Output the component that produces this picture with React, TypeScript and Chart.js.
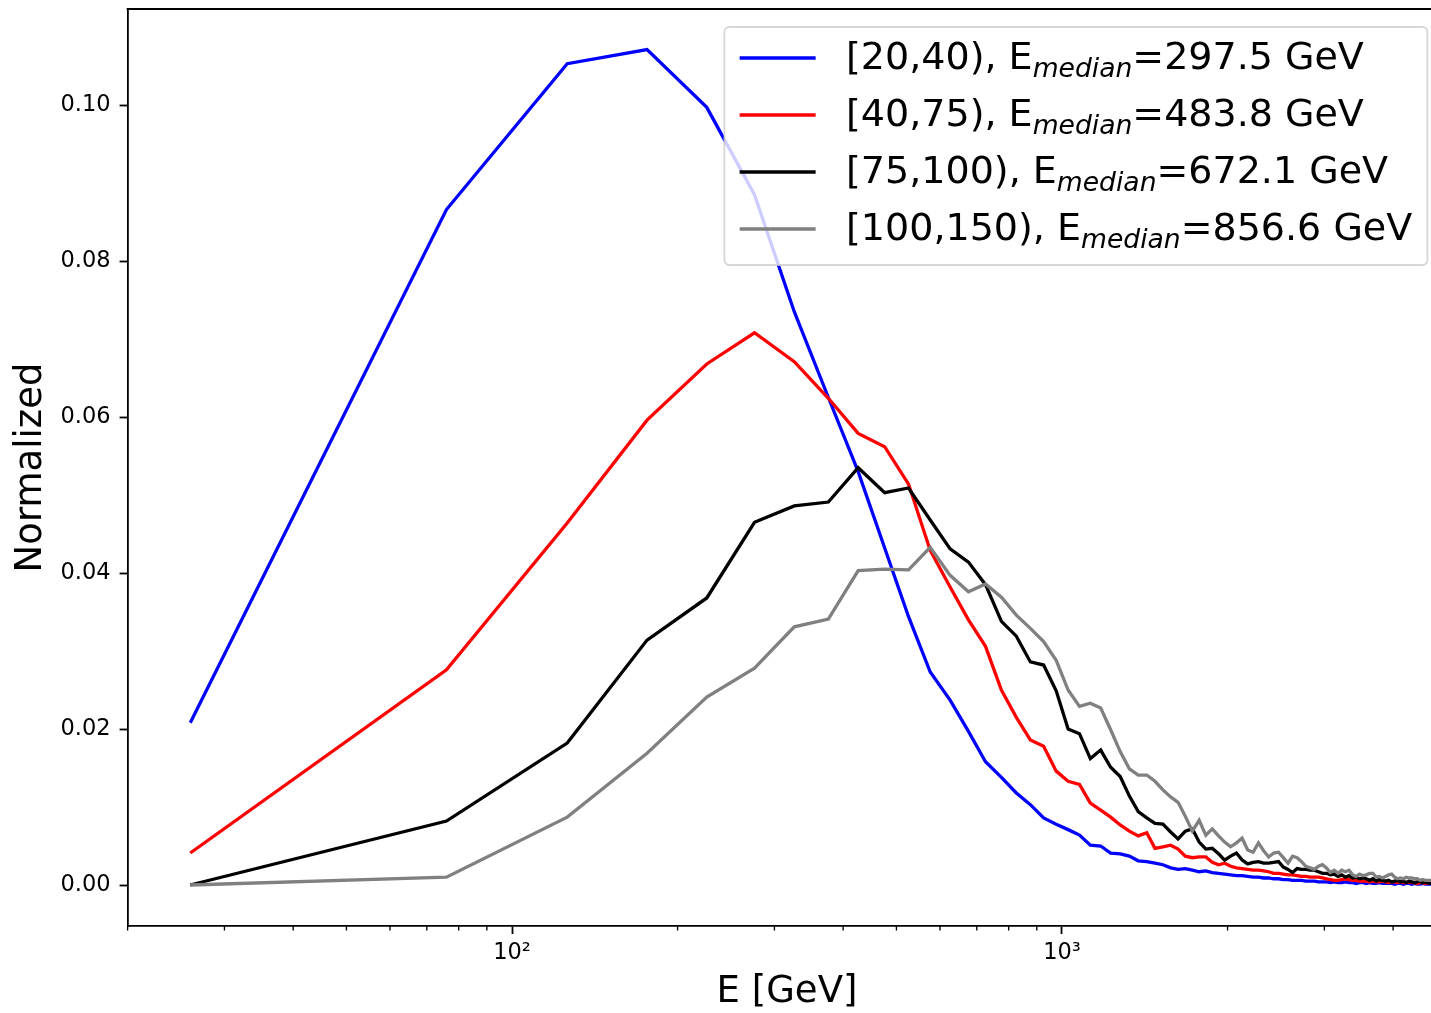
import React, { useEffect, useRef } from "react";
import { Chart, registerables } from "chart.js";

Chart.register(...registerables);

// ---------- data ----------
const energies = [
  26, 76, 126, 176, 226, 276, 326, 376, 426, 476,
  526, 576, 626, 676, 726, 776, 826, 876, 926, 976,
  1026, 1076, 1126, 1176, 1226, 1276, 1326, 1376, 1426, 1476,
  1526, 1576, 1626, 1676, 1726, 1776, 1826, 1876, 1926, 1976,
  2026, 2076, 2126, 2176, 2226, 2276, 2326, 2376, 2426, 2476,
  2526, 2576, 2626, 2676, 2726, 2776, 2826, 2876, 2926, 2976,
  3026, 3076, 3126, 3176, 3226, 3276, 3326, 3376, 3426, 3476,
  3526, 3576, 3626, 3676, 3726, 3776, 3826, 3876, 3926, 3976,
  4026, 4076, 4126, 4176, 4226, 4276, 4326, 4376, 4426, 4476,
  4526, 4576, 4626, 4676, 4726, 4776, 4826, 4876, 4926, 4976,
];

const series20to40 = [
  0.0208, 0.0866, 0.1053, 0.1071, 0.0997, 0.0885, 0.0735, 0.0625, 0.0530, 0.0432,
  0.0344, 0.0273, 0.0237, 0.0197, 0.0158, 0.0138, 0.0118, 0.0103, 0.0086, 0.0078,
  0.0071, 0.0064, 0.0051, 0.0050, 0.0041, 0.0040, 0.0037, 0.0031, 0.0030, 0.0028,
  0.0026, 0.0022, 0.0020, 0.0021, 0.0019, 0.0017, 0.0018, 0.0016, 0.0015, 0.0014,
  0.0013, 0.0012, 0.0012, 0.0011, 0.0010, 0.0010, 0.0009, 0.0009, 0.0008, 0.0008,
  0.0007, 0.0007, 0.0006, 0.0006, 0.0006, 0.0005, 0.0005, 0.0005, 0.0004, 0.0004,
  0.0004, 0.0003, 0.0004, 0.0003, 0.0003, 0.0004, 0.0003, 0.0003, 0.0002, 0.0003,
  0.0003, 0.0002, 0.0003, 0.0002, 0.0002, 0.0003, 0.0002, 0.0002, 0.0002, 0.0002,
  0.0001, 0.0002, 0.0002, 0.0001, 0.0002, 0.0002, 0.0001, 0.0002, 0.0001, 0.0001,
  0.0002, 0.0001, 0.0001, 0.0001, 0.0002, 0.0001, 0.0001, 0.0001, 0.0001, 0.0001,
];

const series40to75 = [
  0.0041, 0.0276, 0.0464, 0.0596, 0.0668, 0.0708, 0.0671, 0.0624, 0.0579, 0.0562,
  0.0514, 0.0429, 0.0382, 0.0340, 0.0306, 0.0250, 0.0215, 0.0186, 0.0178, 0.0146,
  0.0133, 0.0129, 0.0105, 0.0096, 0.0087, 0.0077, 0.0069, 0.0063, 0.0067, 0.0047,
  0.0049, 0.0051, 0.0046, 0.0037, 0.0035, 0.0036, 0.0036, 0.0029, 0.0026, 0.0028,
  0.0024, 0.0022, 0.0021, 0.0020, 0.0019, 0.0019, 0.0018, 0.0017, 0.0015, 0.0015,
  0.0014, 0.0013, 0.0013, 0.0012, 0.0011, 0.0011, 0.0010, 0.0010, 0.0010, 0.0009,
  0.0008, 0.0007, 0.0006, 0.0006, 0.0007, 0.0008, 0.0007, 0.0006, 0.0006, 0.0005,
  0.0005, 0.0005, 0.0004, 0.0005, 0.0004, 0.0004, 0.0005, 0.0004, 0.0003, 0.0004,
  0.0004, 0.0003, 0.0004, 0.0003, 0.0003, 0.0004, 0.0003, 0.0003, 0.0002, 0.0003,
  0.0003, 0.0002, 0.0003, 0.0003, 0.0002, 0.0003, 0.0002, 0.0002, 0.0003, 0.0002,
];

const series75to100 = [
  0.0000, 0.0082, 0.0182, 0.0314, 0.0368, 0.0465, 0.0486, 0.0491, 0.0535, 0.0503,
  0.0509, 0.0468, 0.0431, 0.0414, 0.0385, 0.0338, 0.0319, 0.0286, 0.0282, 0.0249,
  0.0200, 0.0194, 0.0162, 0.0173, 0.0151, 0.0139, 0.0114, 0.0094, 0.0086, 0.0079,
  0.0078, 0.0068, 0.0059, 0.0069, 0.0072, 0.0055, 0.0046, 0.0047, 0.0040, 0.0032,
  0.0037, 0.0041, 0.0032, 0.0027, 0.0029, 0.0030, 0.0028, 0.0028, 0.0029, 0.0030,
  0.0023, 0.0020, 0.0016, 0.0021, 0.0020, 0.0020, 0.0019, 0.0019, 0.0017, 0.0015,
  0.0015, 0.0013, 0.0014, 0.0011, 0.0013, 0.0010, 0.0012, 0.0009, 0.0010, 0.0008,
  0.0009, 0.0008, 0.0006, 0.0008, 0.0005, 0.0007, 0.0006, 0.0005, 0.0006, 0.0004,
  0.0005, 0.0006, 0.0004, 0.0005, 0.0003, 0.0005, 0.0004, 0.0003, 0.0004, 0.0005,
  0.0003, 0.0004, 0.0003, 0.0002, 0.0004, 0.0003, 0.0003, 0.0002, 0.0003, 0.0002,
];

const series100to150 = [
  0.0000, 0.0010, 0.0087, 0.0169, 0.0241, 0.0278, 0.0331, 0.0341, 0.0403, 0.0405,
  0.0404, 0.0433, 0.0397, 0.0376, 0.0386, 0.0369, 0.0346, 0.0329, 0.0312, 0.0288,
  0.0250, 0.0229, 0.0233, 0.0227, 0.0199, 0.0171, 0.0149, 0.0141, 0.0141, 0.0133,
  0.0122, 0.0113, 0.0106, 0.0088, 0.0069, 0.0083, 0.0064, 0.0072, 0.0063, 0.0055,
  0.0049, 0.0054, 0.0060, 0.0045, 0.0042, 0.0054, 0.0044, 0.0036, 0.0041, 0.0042,
  0.0035, 0.0028, 0.0037, 0.0035, 0.0030, 0.0024, 0.0022, 0.0020, 0.0024, 0.0026,
  0.0022, 0.0016, 0.0019, 0.0015, 0.0019, 0.0017, 0.0019, 0.0013, 0.0011, 0.0014,
  0.0012, 0.0013, 0.0015, 0.0015, 0.0010, 0.0011, 0.0009, 0.0011, 0.0013, 0.0014,
  0.0010, 0.0008, 0.0009, 0.0008, 0.0010, 0.0009, 0.0009, 0.0008, 0.0008, 0.0006,
  0.0007, 0.0006, 0.0006, 0.0006, 0.0006, 0.0005, 0.0005, 0.0006, 0.0005, 0.0005,
];

const seriesRanges = ["[20,40)", "[40,75)", "[75,100)", "[100,150)"];
const seriesMedians = ["297.5", "483.8", "672.1", "856.6"];
const seriesColors = ["#0000ff", "#ff0000", "#000000", "#808080"];
const seriesValues = [series20to40, series40to75, series75to100, series100to150];

const yTickValues = [0, 0.02, 0.04, 0.06, 0.08, 0.1];
const xMajorTicks = [100, 1000];
const xMajorLabels = ["10\u00b2", "10\u00b3"];
const xMinorTicks = [20, 30, 40, 50, 60, 70, 80, 90, 200, 300, 400, 500, 600, 700, 800, 900, 2000, 3000, 4000];

const X_MIN = 20;
const X_MAX = 5000;
const Y_MIN = -0.005256;
const Y_MAX = 0.11231;

const FONT = '"DejaVu Sans", "Liberation Sans", sans-serif';

// ---------- plugins ----------
const framePlugin = {
  id: "frameAndMinorTicks",
  afterDraw(chart: any) {
    const { ctx, chartArea: a, scales } = chart;
    ctx.save();
    ctx.strokeStyle = "#000";
    ctx.lineWidth = 1.8;
    ctx.beginPath();
    ctx.moveTo(a.left - 0.9, a.top);
    ctx.lineTo(a.right, a.top);
    ctx.lineTo(a.right, a.bottom);
    ctx.stroke();
    ctx.lineWidth = 1.35;
    ctx.beginPath();
    for (const v of xMinorTicks) {
      const px = scales.x.getPixelForValue(v);
      ctx.moveTo(px, a.bottom);
      ctx.lineTo(px, a.bottom + 4.5);
    }
    ctx.stroke();
    ctx.restore();
  },
};

const legendPlugin = {
  id: "subscriptLegend",
  afterDraw(chart: any) {
    const { ctx, chartArea: a } = chart;
    const F = 38;
    const baseFont = `${F}px ${FONT}`;
    const subFont = `italic ${F * 0.7}px ${FONT}`;
    ctx.save();
    const parts = seriesRanges.map((r, i) => ({
      pre: `${r}, E`,
      sub: "median",
      post: `=${seriesMedians[i]} GeV`,
    }));
    const widths = parts.map((p) => {
      ctx.font = baseFont;
      const w1 = ctx.measureText(p.pre).width;
      const w3 = ctx.measureText(p.post).width;
      ctx.font = subFont;
      const w2 = ctx.measureText(p.sub).width;
      return [w1, w2, w3];
    });
    const maxW = Math.max(...widths.map((w) => w[0] + w[1] + w[2]));
    const pad = 0.4 * F;
    const handle = 2 * F;
    const hpad = 0.8 * F;
    const boxW = pad + handle + hpad + maxW + pad;
    const boxH = 238;
    const right = a.right - 0.5 * F;
    const top = a.top + 18;
    const left = right - boxW;

    ctx.beginPath();
    ctx.roundRect(left, top, boxW, boxH, 5);
    ctx.fillStyle = "rgba(255,255,255,0.8)";
    ctx.fill();
    ctx.strokeStyle = "rgba(204,204,204,0.8)";
    ctx.lineWidth = 1.8;
    ctx.stroke();

    parts.forEach((p, i) => {
      const cy = top + 31 + i * 57;
      ctx.beginPath();
      ctx.strokeStyle = seriesColors[i];
      ctx.lineWidth = 3.4;
      ctx.moveTo(left + pad, cy);
      ctx.lineTo(left + pad + handle, cy);
      ctx.stroke();
      const baseY = cy + 11;
      let x = left + pad + handle + hpad;
      ctx.fillStyle = "#000";
      ctx.textBaseline = "alphabetic";
      ctx.textAlign = "left";
      ctx.font = baseFont;
      ctx.fillText(p.pre, x, baseY);
      x += widths[i][0];
      ctx.font = subFont;
      ctx.fillText(p.sub, x, baseY + 0.2 * F);
      x += widths[i][1];
      ctx.font = baseFont;
      ctx.fillText(p.post, x, baseY);
    });
    ctx.restore();
  },
};

export default function App() {
  const ref = useRef<HTMLCanvasElement | null>(null);

  useEffect(() => {
    if (!ref.current) return;
    const datasets = seriesValues.map((vals, i) => ({
      label: `${seriesRanges[i]}, E_median=${seriesMedians[i]} GeV`,
      data: energies.map((e, j) => ({ x: e, y: vals[j] })),
      borderColor: seriesColors[i],
      backgroundColor: seriesColors[i],
      borderWidth: 3.3,
      pointRadius: 0,
      tension: 0,
      fill: false,
      order: 4 - i,
    }));

    const chart = new Chart(ref.current, {
      type: "line",
      data: { datasets },
      options: {
        animation: false,
        responsive: false,
        devicePixelRatio: 1,
        layout: { padding: { left: 0, top: 9, right: 13.6, bottom: 0 } },
        plugins: {
          legend: { display: false },
          tooltip: { enabled: false },
        },
        scales: {
          x: {
            type: "logarithmic",
            min: X_MIN,
            max: X_MAX,
            bounds: "data",
            afterBuildTicks: (scale: any) => {
              scale.ticks = xMajorTicks.map((v) => ({ value: v }));
            },
            afterFit: (scale: any) => {
              scale.height = 87;
              scale.paddingLeft = 0;
              scale.paddingRight = 0;
            },
            ticks: {
              autoSkip: false,
              maxRotation: 0,
              minRotation: 0,
              padding: 5.7,
              color: "#000",
              font: { family: FONT, size: 22.5 },
              callback: (value: any) => {
                const idx = xMajorTicks.indexOf(Number(value));
                return idx >= 0 ? xMajorLabels[idx] : "";
              },
            },
            grid: {
              drawOnChartArea: false,
              drawTicks: true,
              tickLength: 8,
              tickColor: "#000",
              tickWidth: 1.8,
            },
            border: { display: true, color: "#000", width: 1.8 },
            title: {
              display: true,
              text: "E [GeV]",
              color: "#000",
              font: { family: FONT, size: 37, lineHeight: 1 },
              padding: { top: 0, bottom: 2.3 },
            },
          },
          y: {
            type: "linear",
            min: Y_MIN,
            max: Y_MAX,
            bounds: "data",
            afterBuildTicks: (scale: any) => {
              scale.ticks = yTickValues.map((v) => ({ value: v }));
            },
            afterFit: (scale: any) => {
              scale.width = 127.6;
              scale.paddingTop = 0;
              scale.paddingBottom = 0;
            },
            ticks: {
              padding: 9,
              color: "#000",
              font: { family: FONT, size: 22.5 },
              callback: (value: any) => Number(value).toFixed(2),
            },
            grid: {
              drawOnChartArea: false,
              drawTicks: true,
              tickLength: 8,
              tickColor: "#000",
              tickWidth: 1.8,
            },
            border: { display: true, color: "#000", width: 1.8 },
            title: {
              display: true,
              text: "Normalized",
              color: "#000",
              font: { family: FONT, size: 37, lineHeight: 1 },
              padding: { top: 12.7, bottom: 0 },
            },
          },
        },
      },
      plugins: [framePlugin, legendPlugin],
    });
    return () => chart.destroy();
  }, []);

  return (
    <div
      style={{
        position: "fixed",
        left: 0,
        top: 0,
        width: 1431,
        height: 1013,
        overflow: "hidden",
        background: "#fff",
      }}
    >
      <canvas
        ref={ref}
        width={1460}
        height={1013}
        style={{ display: "block", width: 1460, height: 1013 }}
      />
    </div>
  );
}
